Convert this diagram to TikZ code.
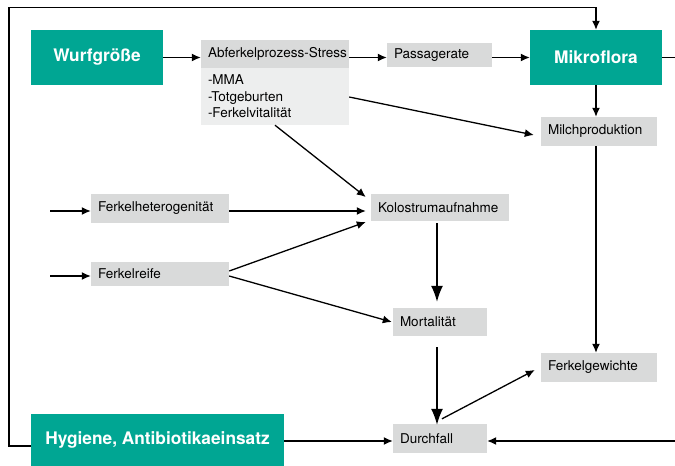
\documentclass[tikz,border=0pt]{standalone}
\usepackage{fontspec}
\setmainfont{TeX Gyre Heros}
\usetikzlibrary{arrows.meta}
\definecolor{boxgreen}{RGB}{0,166,147}
\definecolor{boxgray}{RGB}{217,218,218}
\definecolor{bodygray}{RGB}{237,238,238}
\begin{document}
\begin{tikzpicture}[x=1pt, y=-1pt,
        gbox/.style={fill=boxgray, inner xsep=7pt, inner ysep=0pt, align=left,
            font=\fontsize{13.5}{16.5}\selectfont},
        tbox/.style={fill=boxgreen, text=white, inner sep=0pt,
            font=\fontsize{17.3}{20}\selectfont\bfseries},
        arr/.style={-{Latex[length=9pt,width=8pt]}, line width=1.3pt},
        bigarr/.style={-{Latex[length=16pt,width=12pt]}, line width=1.5pt}]
        \useasboundingbox (0, 0) rectangle (675, 466);
        % green boxes
        \node[tbox, minimum width=132pt, minimum height=55pt] (wurf) at (97, 57.5) {Wurfgröße};
        \node[tbox, minimum width=132pt, minimum height=55pt] (mikro) at (596, 57.5) {Mikroflora};
        \node[tbox, minimum width=253pt, minimum height=52pt] (hyg) at (157.5, 440) {Hygiene, Antibiotikaeinsatz};
        % grey boxes
        \node[gbox, fill=bodygray, text width=134pt, minimum height=57pt] (abfbody) at (275, 96.5)
            {-MMA\\-Totgeburten\\-Ferkelvitalität};
        \node[gbox, text width=134pt, minimum height=28pt] (abfhead) at (275, 54) {\mbox{Abferkelprozess-Stress}};
        \node[gbox, text width=91pt, minimum height=24pt] (pass) at (439.5, 55) {Passagerate};
        \node[gbox, text width=102pt, minimum height=29pt] (milch) at (599, 131.5) {Milchproduktion};
        \node[gbox, text width=124pt, minimum height=27pt] (kolo) at (440, 207.5) {Kolostrumaufnahme};
        \node[gbox, text width=124pt, minimum height=29pt] (fhet) at (160, 208.5) {Ferkelheterogenität};
        \node[gbox, text width=124pt, minimum height=24pt] (freife) at (160, 274) {Ferkelreife};
        \node[gbox, text width=80pt, minimum height=28pt] (mort) at (440, 322) {Mortalität};
        \node[gbox, text width=102pt, minimum height=29pt] (fgew) at (599, 367.5) {Ferkelgewichte};
        \node[gbox, text width=80pt, minimum height=29pt] (durch) at (440, 438.5) {Durchfall};
        % free ends
        \coordinate (outR) at (675, 57.5);
        \coordinate (inR) at (675, 441);
        \coordinate (inHet) at (50, 211);
        \coordinate (inReife) at (50, 276);
        \coordinate (loopL) at (9, 7.5);
        % connectors
        \draw[arr] (wurf.east) -- (wurf.east -| abfhead.west);
        \draw[arr] (abfhead.east |- wurf.east) -- (pass.west |- wurf.east);
        \draw[arr] (pass.east |- mikro.west) -- (mikro.west);
        \draw[line width=1.3pt] (mikro.east) -- (outR);
        \draw[arr] ([yshift=-6pt]hyg.west) -| (loopL) -| (mikro.north);
        \draw[arr] (mikro.south) -- (mikro.south |- milch.north);
        \draw[arr] ([yshift=-0.5pt]abfbody.east) -- ([xshift=-7pt,yshift=-3.5pt]milch.west);
        \draw[arr] ([xshift=-3pt]milch.south) -- ([xshift=-3pt]fgew.north);
        \draw[arr] (abfbody.south) -- ([xshift=-5pt,yshift=10.5pt]kolo.west);
        \draw[arr] (inHet) -- (inHet -| fhet.west);
        \draw[arr] (inReife) -- (inReife -| freife.west);
        \draw[arr] ([yshift=-2.5pt]fhet.east) -- ([xshift=-5pt,yshift=-3.5pt]kolo.west);
        \draw[arr] ([yshift=3pt]freife.east) -- ([xshift=-5pt,yshift=-14.5pt]kolo.west);
        \draw[arr] ([yshift=-2pt]freife.east) -- ([xshift=-1pt]mort.west);
        \draw[bigarr] ([xshift=-3pt,yshift=-2pt]kolo.south) -- ([xshift=-3pt,yshift=6pt]mort.north);
        \draw[bigarr] ([xshift=-3pt,yshift=-11pt]mort.south) -- ([xshift=-3pt,yshift=-1pt]durch.north);
        \draw[arr] ([xshift=2pt,yshift=5pt]durch.north) -- ([xshift=-6pt,yshift=-2.5pt]fgew.west);
        \draw[arr] ([yshift=-1pt]hyg.east) -- ([yshift=-1pt]hyg.east -| durch.west);
        \draw[arr] (inR) -- (inR -| durch.east);
    \end{tikzpicture}
\end{document}
